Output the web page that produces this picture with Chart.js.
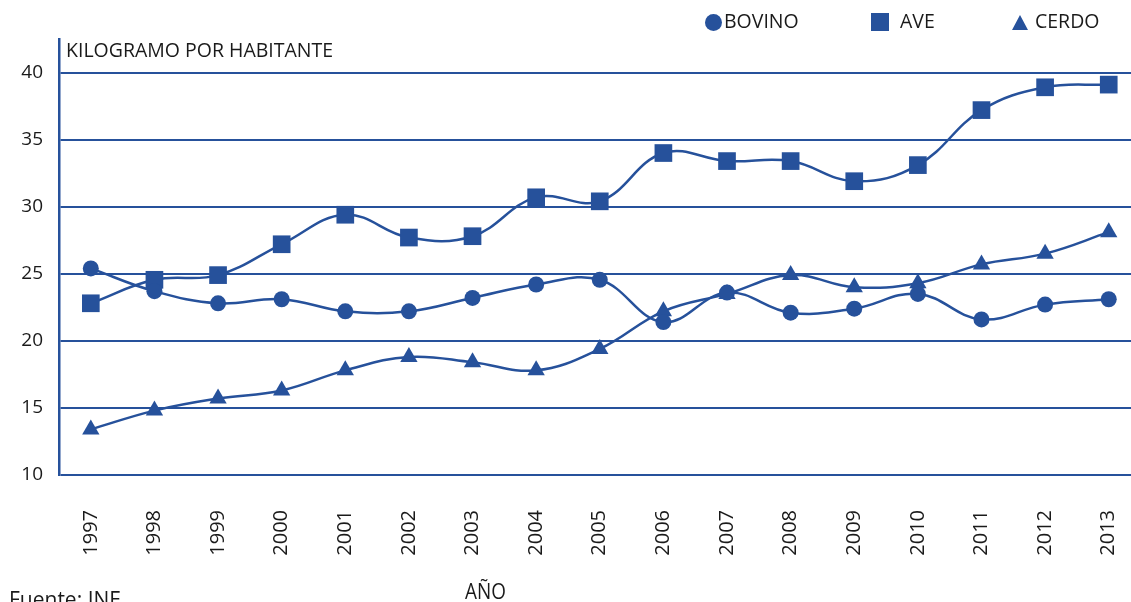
<!DOCTYPE html>
<html>
<head>
<meta charset="utf-8">
<script src="https://cdn.jsdelivr.net/npm/chart.js@4"></script>
<style>
  html, body { margin: 0; background: #fff; overflow: hidden; }
  #wrap { position: relative; width: 1131px; height: 602px; overflow: hidden; font-family: "Open Sans", sans-serif; color: #1a1a1a; }
  #chart { display: block; }
  .txt { position: absolute; white-space: nowrap; }
  .leg { position: absolute; top: 8px; font-size: 19.5px; line-height: 26px; }
  .dot { position: absolute; width: 17px; height: 17px; border-radius: 50%; background: #26519b; }
  .sq { position: absolute; width: 18px; height: 18px; background: #26519b; }
  .tri { position: absolute; width: 0; height: 0; border-left: 8.5px solid transparent; border-right: 8.5px solid transparent; border-bottom: 15px solid #26519b; }
</style>
</head>
<body>
<div id="wrap">
  <canvas id="chart" width="1131" height="602"></canvas>
  <span class="dot" style="left:705px;top:14px"></span>
  <span class="leg" style="left:724px">BOVINO</span>
  <span class="sq" style="left:871px;top:13px"></span>
  <span class="leg" style="left:900px">AVE</span>
  <span class="tri" style="left:1012px;top:15px"></span>
  <span class="leg" style="left:1035px">CERDO</span>
  <span class="txt" style="left:66px;top:36px;font-size:19.5px">KILOGRAMO POR HABITANTE</span>
  <span class="txt" style="left:465px;top:577px;font-size:21px;transform:scaleX(0.9);transform-origin:left">AÑO</span>
  <span class="txt" style="left:9px;top:585px;font-size:21px">Fuente: INE</span>
</div>
<script>
// Data
const years = ['1997', '1998', '1999', '2000', '2001', '2002', '2003', '2004', '2005',
  '2006', '2007', '2008', '2009', '2010', '2011', '2012', '2013'];
const bovino = [25.4, 23.7, 22.8, 23.1, 22.2, 22.2, 23.2, 24.2, 24.55, 21.4, 23.6, 22.1, 22.4, 23.5, 21.6, 22.7, 23.1];
const ave = [22.8, 24.55, 24.9, 27.2, 29.4, 27.7, 27.8, 30.7, 30.4, 34.0, 33.4, 33.4, 31.9, 33.1, 37.2, 38.9, 39.1];
const cerdo = [13.4, 14.8, 15.7, 16.3, 17.8, 18.8, 18.4, 17.8, 19.4, 22.2, 23.5, 24.9, 24.0, 24.3, 25.7, 26.5, 28.1];
const yTicks = [10, 15, 20, 25, 30, 35, 40];

const blue = '#26519b';

function toPoints(values) {
  return values.map((v, i) => ({ x: i, y: v }));
}

function makeDataset(label, values, style, radius) {
  return {
    label: label,
    data: toPoints(values),
    borderColor: blue,
    backgroundColor: blue,
    borderWidth: 2.5,
    tension: 0.4,
    pointStyle: style,
    pointRadius: radius,
    pointHoverRadius: radius,
    pointBorderWidth: 0,
  };
}

const ctx = document.getElementById('chart').getContext('2d');
const chart = new Chart(ctx, {
  type: 'line',
  data: {
    datasets: [
      makeDataset('BOVINO', bovino, 'circle', 8),
      makeDataset('AVE', ave, 'rect', 12.5),
      makeDataset('CERDO', cerdo, 'triangle', 10),
    ],
  },
  options: {
    responsive: false,
    animation: false,
    devicePixelRatio: 1,
    layout: { autoPadding: false, padding: { top: 39, right: 0, left: 0, bottom: 0 } },
    plugins: { legend: { display: false }, tooltip: { enabled: false } },
    scales: {
      x: {
        type: 'linear',
        min: -0.5,
        max: 16.35,
        grid: { display: false },
        border: { display: false },
        afterFit(scale) {
          scale.height = 127;
          scale.paddingLeft = 0;
          scale.paddingRight = 0;
        },
        afterBuildTicks(scale) {
          scale.ticks = years.map((y, i) => ({ value: i }));
        },
        ticks: {
          minRotation: 90,
          maxRotation: 90,
          padding: 27,
          color: '#1a1a1a',
          font: { family: 'Open Sans', size: 20 },
          callback: (v) => years[v],
        },
      },
      y: {
        min: 10,
        max: 42.5,
        afterFit(scale) { scale.width = 59; },
        afterBuildTicks(scale) {
          scale.ticks = yTicks.map((t) => ({ value: t }));
        },
        grid: { color: blue, lineWidth: 2, drawTicks: false },
        border: { color: blue, width: 2.5 },
        ticks: {
          padding: 16,
          color: '#1a1a1a',
          font: { family: 'Open Sans', size: 19 },
        },
      },
    },
  },
});
</script>
</body>
</html>
